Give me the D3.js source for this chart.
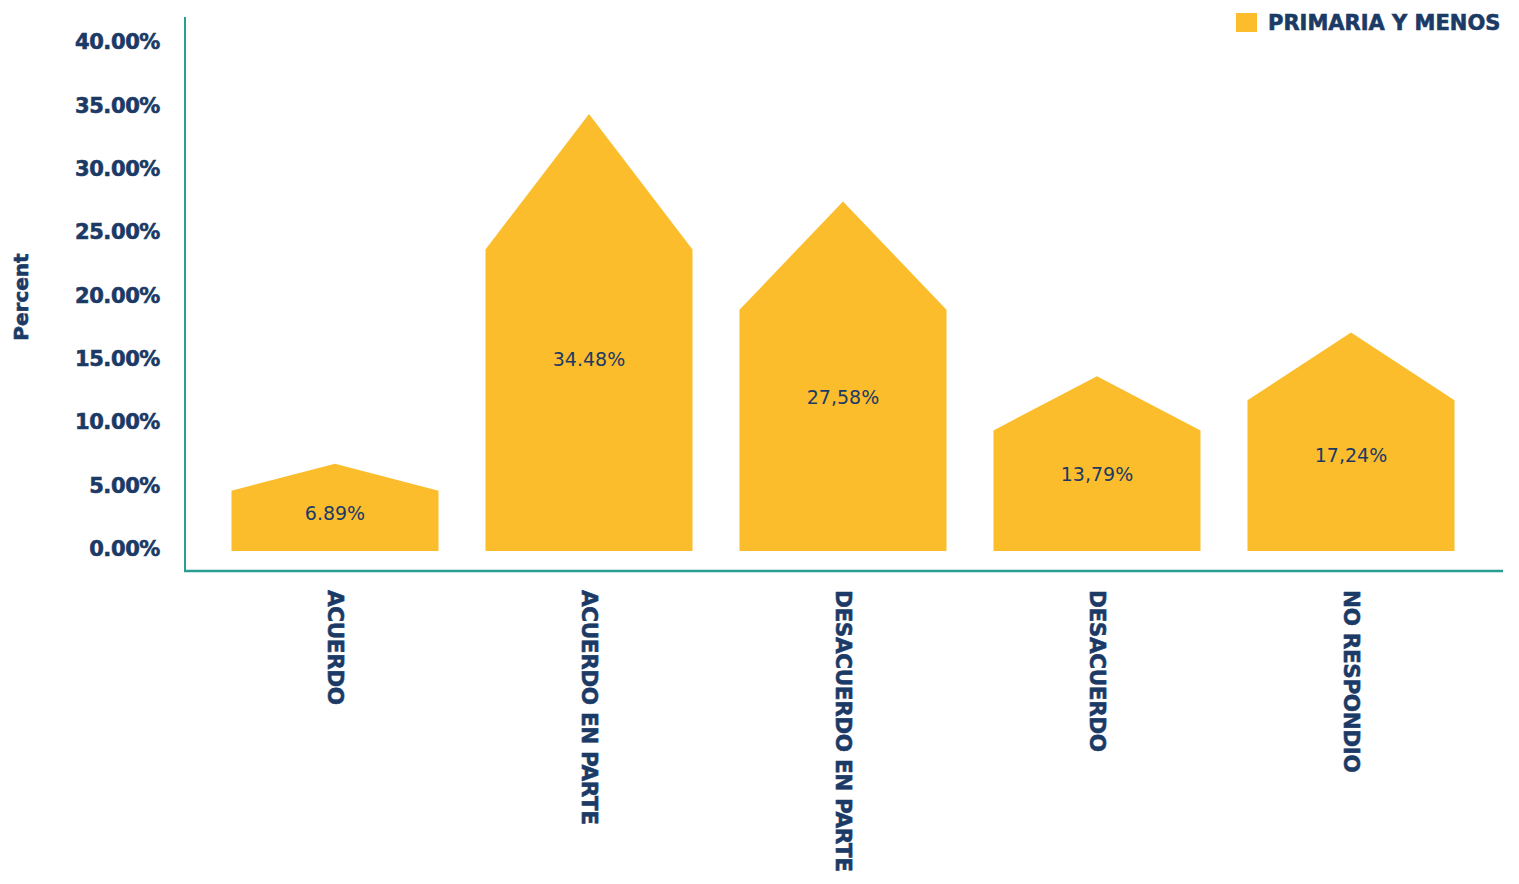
<!DOCTYPE html>
<html><head><meta charset="utf-8">
<script src="https://cdn.jsdelivr.net/npm/d3@7"></script>
<style>
html,body{margin:0;padding:0;background:#fff;}
svg{display:block;}
</style></head>
<body>
<svg id="chart" width="1519" height="884"></svg>
<script>
const categories = ["ACUERDO", "ACUERDO EN PARTE", "DESACUERDO EN PARTE", "DESACUERDO", "NO RESPONDIO"];
const values = [6.89, 34.48, 27.58, 13.79, 17.24];
const valueLabels = ["6.89%", "34.48%", "27,58%", "13,79%", "17,24%"];
const yTicks = [0, 5, 10, 15, 20, 25, 30, 35, 40];
const seriesName = "PRIMARIA Y MENOS";

const NAVY = "#1b3a66", GOLD = "#fbbd2b", TEAL = "#2a9d95";
const BOLD = "'DejaVu Sans', sans-serif";

const svg = d3.select("#chart");
const x = d3.scaleBand().domain(categories).range([208, 1478]).paddingInner(0.185).paddingOuter(0.0925);
const y = d3.scaleLinear().domain([0, 40]).range([551, 44]);

// axes lines
svg.append("line").attr("x1", 185).attr("x2", 185).attr("y1", 17).attr("y2", 572)
  .attr("stroke", TEAL).attr("stroke-width", 2);
svg.append("line").attr("x1", 184).attr("x2", 1503).attr("y1", 571).attr("y2", 571)
  .attr("stroke", TEAL).attr("stroke-width", 2.5);

function boldText(sel, size) {
  sel.attr("fill", NAVY).attr("font-family", BOLD).attr("font-weight", "bold")
    .attr("font-size", size).attr("stroke", NAVY).attr("stroke-width", 0.6);
}

// y tick labels
const yAxis = d3.axisLeft(y).tickValues(yTicks).tickSize(0).tickPadding(0)
  .tickFormat(d => d3.format(".2f")(d) + "%");
const gy = svg.append("g").attr("transform", "translate(160,-2)").call(yAxis);
gy.select(".domain").remove();
boldText(gy.selectAll("text"), 21);
gy.selectAll("text").attr("letter-spacing", -0.4);

// y title
boldText(svg.append("text").attr("transform", "translate(28,297) rotate(-90)").attr("text-anchor", "middle")
  .text("Percent"), 20);

// house-shaped bars
const roofRatio = 0.69;
svg.append("g").selectAll("path").data(values).join("path")
  .attr("fill", GOLD)
  .attr("d", (v, i) => {
    const x0 = x(categories[i]), x1 = x0 + x.bandwidth(), xm = x0 + x.bandwidth() / 2;
    const yb = y(0), ys = y(v * roofRatio), yp = y(v);
    return `M${x0},${yb}L${x0},${ys}L${xm},${yp}L${x1},${ys}L${x1},${yb}Z`;
  });

// value labels
svg.append("g").selectAll("text").data(values).join("text")
  .attr("x", (v, i) => x(categories[i]) + x.bandwidth() / 2)
  .attr("y", v => y(v * 0.44))
  .attr("text-anchor", "middle").attr("dominant-baseline", "central")
  .attr("fill", NAVY).attr("font-family", "'DejaVu Sans', sans-serif").attr("font-size", 19)
  .text((v, i) => valueLabels[i]);

// category labels (rotated)
const cl = svg.append("g").selectAll("text").data(categories).join("text")
  .attr("transform", d => `translate(${x(d) + x.bandwidth() / 2},590) rotate(90)`)
  .attr("text-anchor", "start").attr("dominant-baseline", "central")
  .text(d => d);
boldText(cl, 21.5);
cl.attr("letter-spacing", -0.35);

// legend
const lg = svg.append("g").attr("transform", "translate(1236,13)");
lg.append("rect").attr("width", 21).attr("height", 19).attr("fill", GOLD);
boldText(lg.append("text").attr("x", 32).attr("y", 10).attr("dominant-baseline", "central")
  .text(seriesName), 21);
</script>
</body></html>
